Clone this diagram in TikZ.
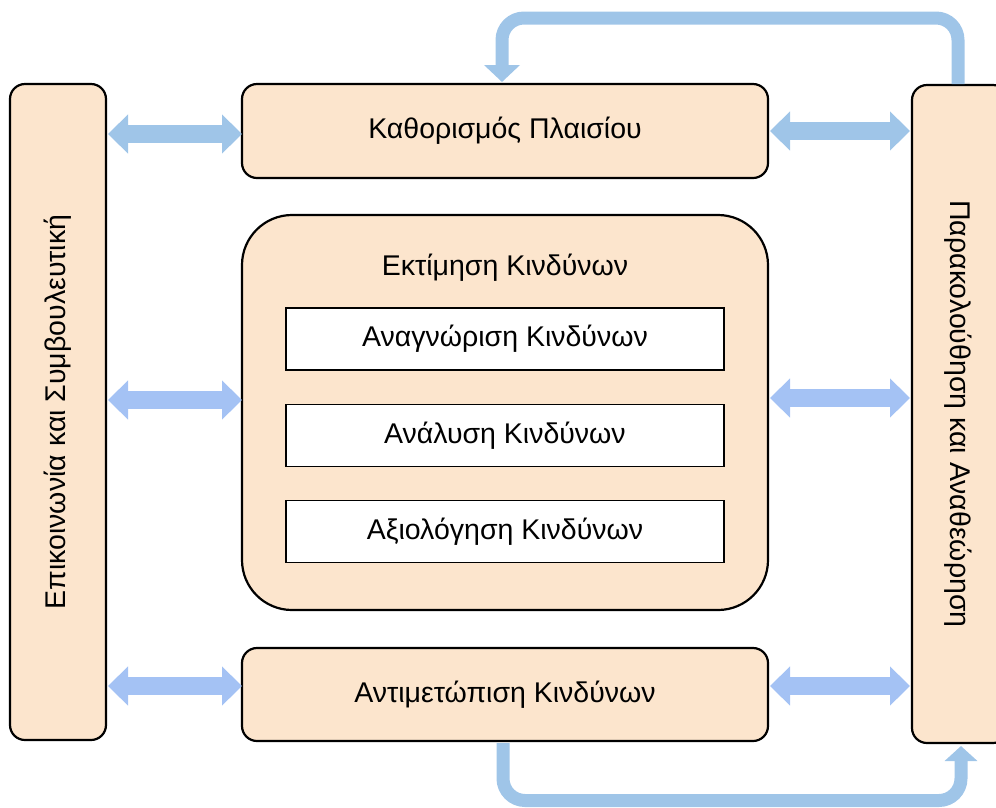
\documentclass[tikz,border=0pt]{standalone}
\usepackage{fontspec}
\setmainfont{Liberation Sans}
\usetikzlibrary{arrows.meta}
\definecolor{boxfill}{HTML}{FCE5CD}
\definecolor{arrA}{HTML}{9FC5E8}
\definecolor{arrB}{HTML}{A4C2F4}
\tikzset{
  lbl/.style={font=\fontsize{28.5}{34}\selectfont},
  box/.style={draw=black, line width=2.2pt, fill=boxfill, rounded corners=15pt, inner sep=0pt, lbl},
  bigbox/.style={box, rounded corners=50pt},
  innerbox/.style={draw=black, line width=1.6pt, fill=white, inner sep=0pt, lbl},
  dblarrow/.style={draw=#1, line width=18pt, {Triangle[width=38pt,length=20pt]}-{Triangle[width=38pt,length=20pt]}},
  looparrow/.style={draw=arrA, line width=13pt, rounded corners=22pt, -{Triangle[width=35pt,length=17pt]}},
}
\begin{document}
\begin{tikzpicture}[x=1pt,y=-1pt]
\useasboundingbox (0,0) rectangle (996,807);
% boxes
\node[box, minimum width=96pt, minimum height=656pt] (comm) at (58,412) {};
\node[rotate=90, lbl] (commlbl) at (comm.center) {Επικοινωνία και Συμβουλευτική};
\node[box, minimum width=96pt, minimum height=658pt] (mon) at (960,414) {};
\node[rotate=-90, lbl] (monlbl) at (958,414) {Παρακολούθηση και Αναθεώρηση};
\node[box, minimum width=526pt, minimum height=94pt] (ctx) at (505,131) {Καθορισμός Πλαισίου};
\node[bigbox, minimum width=526pt, minimum height=395pt] (assess) at (505,412.5) {};
\node[lbl] (assesslbl) at (505,268) {Εκτίμηση Κινδύνων};
\node[innerbox, minimum width=438pt, minimum height=62pt] (ident) at (505,339) {Αναγνώριση Κινδύνων};
\node[innerbox, minimum width=438pt, minimum height=62pt] (anal) at (505,435.5) {Ανάλυση Κινδύνων};
\node[innerbox, minimum width=438pt, minimum height=62pt] (eval) at (505,531.5) {Αξιολόγηση Κινδύνων};
\node[box, minimum width=526pt, minimum height=93pt] (treat) at (505,694.5) {Αντιμετώπιση Κινδύνων};
% coordinates for double arrows
\coordinate (l1a) at (108,134); \coordinate (l1b) at (242,134);
\coordinate (l2a) at (108,400); \coordinate (l2b) at (242,400);
\coordinate (l3a) at (108,686); \coordinate (l3b) at (242,686);
\coordinate (r1a) at (770,131); \coordinate (r1b) at (910,131);
\coordinate (r2a) at (770,398); \coordinate (r2b) at (910,398);
\coordinate (r3a) at (770,686); \coordinate (r3b) at (910,686);
\draw[dblarrow=arrA] (l1a) -- (l1b);
\draw[dblarrow=arrB] (l2a) -- (l2b);
\draw[dblarrow=arrB] (l3a) -- (l3b);
\draw[dblarrow=arrA] (r1a) -- (r1b);
\draw[dblarrow=arrB] (r2a) -- (r2b);
\draw[dblarrow=arrB] (r3a) -- (r3b);
% loop arrows
\coordinate (topstart) at (958,84);
\coordinate (topend) at (502,82);
\draw[looparrow] (topstart) -- (958,18) -- (502,18) -- (topend);
\coordinate (botstart) at (503,743);
\coordinate (botend) at (961,746);
\draw[looparrow, -{Triangle[width=32pt,length=15pt]}] (botstart) -- (503,800.5) -- (961,800.5) -- (botend);
\end{tikzpicture}
\end{document}
